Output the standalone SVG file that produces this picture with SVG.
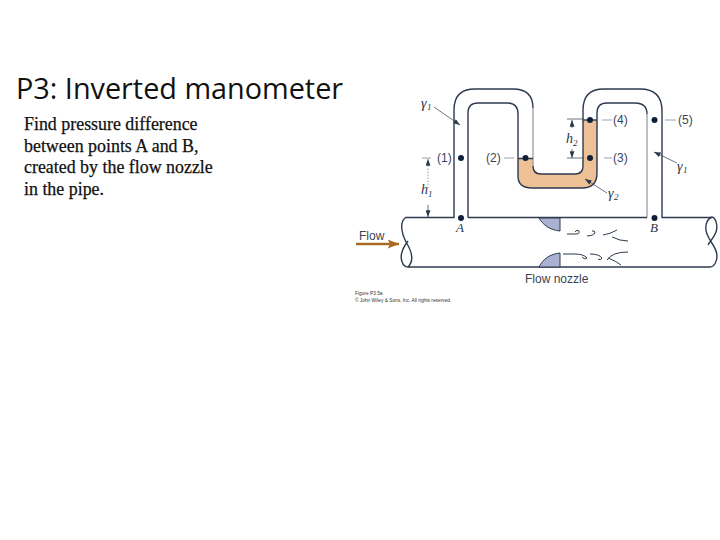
<svg xmlns="http://www.w3.org/2000/svg" width="720" height="540" viewBox="0 0 720 540">
<style>
.title{font-family:"Open Sans","Noto Sans","DejaVu Sans",sans-serif;font-size:28.8px;fill:#111}
.body{font-family:"Liberation Serif",serif;font-size:17.9px;fill:#111;stroke:#111;stroke-width:.25}
.lab{font-family:"Liberation Sans",sans-serif;font-size:12px;fill:#3a4454}
.it{font-family:"Liberation Serif",serif;font-style:italic;font-size:14px;fill:#2a3448}
.sub{font-size:9px}
.wall{fill:none;stroke:#2d3a4e;stroke-width:1.4}
.light{fill:none;stroke:#8d96a3;stroke-width:1.2}
.thin{fill:none;stroke:#9aa2ac;stroke-width:1}
.dim{fill:none;stroke:#2d3a4e;stroke-width:.7}
.dot{fill:#10203c}
.noz{fill:#a9b2d3;stroke:#2d3a4e;stroke-width:1}
.sw{fill:none;stroke:#2d3a4e;stroke-width:1}
.tiny{font-family:"Liberation Sans",sans-serif;font-size:4.8px;fill:#333}
</style>
<defs>
<marker id="ah" viewBox="0 0 8 6" refX="8" refY="3" markerWidth="7" markerHeight="5" orient="auto" markerUnits="userSpaceOnUse"><path d="M0 0L8 3L0 6Z" fill="#2d3a4e"/></marker>
<marker id="fl" viewBox="0 0 10 8" refX="10" refY="4" markerWidth="13" markerHeight="9" orient="auto" markerUnits="userSpaceOnUse"><path d="M0 0L10 4L0 8L2 4Z" fill="#a86a22"/></marker>
</defs>
<text class="title" x="16" y="99">P3: Inverted manometer</text>
<g class="body">
<text x="24" y="130">Find pressure difference</text>
<text x="24" y="152">between points A and B,</text>
<text x="24" y="173">created by the flow nozzle</text>
<text x="24" y="195">in the pipe.</text>
</g>
<g id="liquid">
<path d="M518 158.500H533V166Q533 174 541 174H575Q583 174 583 166V120H597V173Q597 188 582 188H532Q518 188 518 176Z" fill="#eec096"/>
</g>
<g id="tube">
<path class="wall" d="M405 217.500H454V110Q454 89 475 89H513Q533 89 533 108"/>
<path class="light" d="M533 108V166"/>
<path class="wall" d="M533 158.500H518M533 166Q533 174 541 174H575Q583 174 583 166V110Q583 89 604 89H640Q662 89 662 111V217.500H712"/>
<path class="wall" d="M468 217.500V113Q468 103 478 103H507Q518 103 518 114V176Q518 188 532 188H582Q597 188 597 173V113Q597 103 607 103H635Q647 103 647 114"/>
<path class="light" d="M647 114V217.500"/>
<path class="wall" d="M468 217.500H647"/>
<path class="wall" d="M583 120H597"/>
</g>
<g id="pipe">
<path class="wall" d="M408 267H710"/>
<path class="wall" d="M405 218C400 222 401 232 406 242C411 250 415 260 408 267C402 267 400 258 402 252C403 248 405 245 408 241"/>
<path class="wall" d="M712 217C708 218 705 224 706 230C707 240 717 246 717 256C717 262 714 267 710 267M712 217C716 218 718 226 716 232C714 238 710 241 708 245"/>
</g>
<g id="nozzle">
<path class="noz" d="M560 218V231C550 230 543 225 539 218Z"/>
<path class="noz" d="M560 267V253C550 254 543 259 539 267Z"/>
</g>
<g id="swirls">
<path class="sw" d="M567 234H576Q580 234 579 231Q577 229 575 232"/>
<path class="sw" d="M587 236Q593 236 595 233Q595 230 592 231"/>
<path class="sw" d="M603 235Q610 234 617 230M612 237Q620 241 628 241"/>
<path class="sw" d="M563 254H574Q584 254 587 258M587 258Q584 260 582 257"/>
<path class="sw" d="M590 254Q599 254 602 258Q601 261 598 259"/>
<path class="sw" d="M607 260Q612 252 628 252M608 258Q616 261 621 265"/>
</g>
<g id="connectors">
<path class="dim" d="M567 119H583M567 158H583"/>
<path class="dim" d="M572 128V120" marker-end="url(#ah)"/>
<path class="dim" d="M572 149V158" marker-end="url(#ah)"/>
<path class="thin" d="M422 158H431"/>
<path class="thin" d="M428 165V159" marker-end="url(#ah)"/>
<path class="thin" d="M428 188V165" stroke-dasharray="1.500 1.500"/>
<path class="dim" d="M428 205V217" marker-end="url(#ah)"/>
<path class="thin" d="M504 158H514M604 158H612M602 120H612M665 120H676"/>
<path class="dim" d="M434 107L460 125" marker-end="url(#ah)"/>
<path class="dim" d="M677 163L654 152" marker-end="url(#ah)"/>
<path class="dim" d="M607 193L585 179" marker-end="url(#ah)"/>
<path d="M356 244H399" fill="none" stroke="#a86a22" stroke-width="2.500" marker-end="url(#fl)"/>
</g>
<g id="labels">
<text class="it" x="421" y="108">γ</text><text class="it sub" x="427" y="110">1</text>
<text class="it" x="677" y="171">γ</text><text class="it sub" x="683" y="173">1</text>
<text class="it" x="608" y="198">γ</text><text class="it sub" x="614" y="200">2</text>
<text class="it" x="421" y="194">h</text><text class="it sub" x="428" y="197">1</text>
<text class="it" x="566" y="143">h</text><text class="it sub" x="573" y="146">2</text>
<text class="lab" x="437" y="162">(1)</text>
<text class="lab" x="486" y="162">(2)</text>
<text class="lab" x="613" y="162">(3)</text>
<text class="lab" x="613" y="124">(4)</text>
<text class="lab" x="678" y="124">(5)</text>
<text class="it" x="456" y="232" style="font-size:13px">A</text>
<text class="it" x="650" y="232" style="font-size:13px">B</text>
<text class="lab" x="359" y="240">Flow</text>
<text class="lab" x="525" y="283">Flow nozzle</text>
<text class="tiny" x="355" y="295">Figure P3.5a</text>
<text class="tiny" x="355" y="302">© John Wiley &amp; Sons, Inc. All rights reserved.</text>
</g>
<g id="points">
<circle class="dot" cx="461" cy="158" r="3"/>
<circle class="dot" cx="525.500" cy="158" r="3"/>
<circle class="dot" cx="590" cy="158" r="3"/>
<circle class="dot" cx="590" cy="120" r="3"/>
<circle class="dot" cx="654.500" cy="120" r="3"/>
<circle class="dot" cx="461" cy="218" r="3"/>
<circle class="dot" cx="654.500" cy="218" r="3"/>
</g>
</svg>
